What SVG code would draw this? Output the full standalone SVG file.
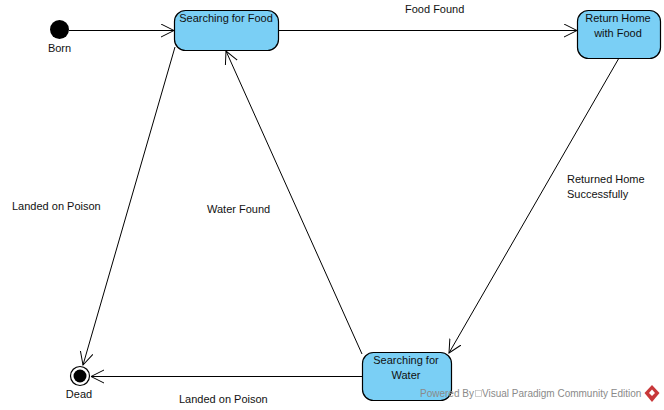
<svg xmlns="http://www.w3.org/2000/svg" width="664" height="410" viewBox="0 0 664 410">
<style>
text{font-family:"Liberation Sans",Arial,sans-serif;font-size:11px;fill:#111}
.s{fill:#7acff5;stroke:#000;stroke-width:1.2}
.c{fill:none;stroke:#000;stroke-width:1}
text.wm{fill:#8a8a8a;font-size:10px}
</style>
<defs>
<marker id="a" markerUnits="userSpaceOnUse" markerWidth="16" markerHeight="16" refX="13" refY="7" orient="auto"><path d="M0 0.500L13 7L0 13.500" fill="none" stroke="#000" stroke-width="1"/></marker>
</defs>
<rect width="664" height="410" fill="#fff"/>
<g id="connectors">
<path class="c" marker-end="url(#a)" d="M69 30.500H174"/>
<path class="c" marker-end="url(#a)" d="M278 30.500H577"/>
<path class="c" marker-end="url(#a)" d="M175 47L83 365"/>
<path class="c" marker-end="url(#a)" d="M619 58L449 353"/>
<path class="c" marker-end="url(#a)" d="M362 354L226 51"/>
<path class="c" marker-end="url(#a)" d="M362 376.500H91"/>
</g>
<g id="born"><circle cx="59.500" cy="29.500" r="9.500" fill="#000"/><text x="59.500" y="52" text-anchor="middle">Born</text></g>
<g id="food"><rect class="s" x="174.500" y="10.500" width="104" height="40" rx="11"/><text x="226" y="22" text-anchor="middle">Searching for Food</text></g>
<g id="home"><rect class="s" x="577.500" y="10.500" width="83" height="48" rx="11"/><text x="618" y="22" text-anchor="middle">Return Home</text><text x="618" y="37" text-anchor="middle">with Food</text></g>
<g id="water"><rect class="s" x="362.500" y="352.500" width="89" height="48" rx="11"/><text x="406" y="364" text-anchor="middle">Searching for</text><text x="406" y="379" text-anchor="middle">Water</text></g>
<g id="dead"><circle cx="80" cy="376" r="9.500" fill="#fff" stroke="#000" stroke-width="1.200"/><circle cx="80" cy="376" r="6.500" fill="#000"/><text x="79" y="398" text-anchor="middle">Dead</text></g>
<g id="labels">
<text x="405" y="13">Food Found</text>
<text x="12" y="210">Landed on Poison</text>
<text x="207" y="213">Water Found</text>
<text x="567" y="183">Returned Home</text>
<text x="567" y="198">Successfully</text>
<text x="179" y="403">Landed on Poison</text>
</g>
<g id="watermark">
<text class="wm" x="420" y="397">Powered By</text>
<rect x="475.500" y="390.500" width="6" height="6" fill="none" stroke="#bbb" stroke-width="0.700"/>
<text class="wm" x="482" y="397">Visual Paradigm Community Edition</text>
<path d="M652 385L659.500 393L652 402L644.500 393Z" fill="#c8383a"/><path d="M652 389.500L655 393L652 396L649 393Z" fill="#fff"/>
</g>
</svg>
